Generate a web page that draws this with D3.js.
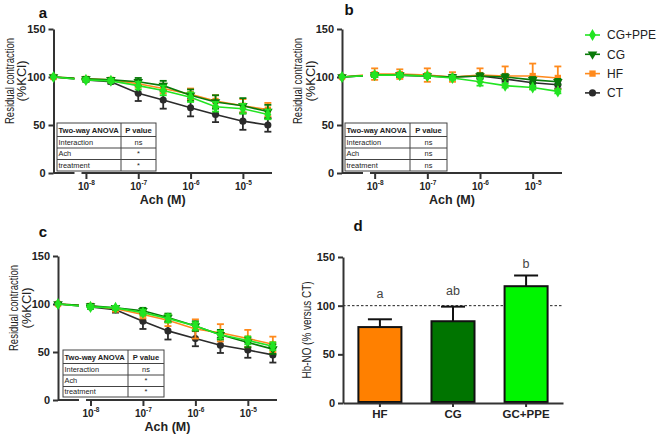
<!DOCTYPE html>
<html><head><meta charset="utf-8">
<script src="https://cdn.jsdelivr.net/npm/d3@7"></script>
<style>
body{margin:0;background:#fff}
svg{display:block}
text{font-family:"Liberation Sans",Arial,Helvetica,sans-serif}
</style>
</head><body>
<svg id="chart" width="658" height="436"></svg>
<script>
// ---------------- DATA ----------------
const doses = [0, 1e-8, 3e-8, 1e-7, 3e-7, 1e-6, 3e-6, 1e-5, 3e-5];
const seriesNames = ["CG+PPE", "CG", "HF", "CT"];
const xTickValues = [1e-8, 1e-7, 1e-6, 1e-5];
const xTickExps = ["-8", "-7", "-6", "-5"];
const yTickValues = [0, 50, 100, 150];

// panel a
const aCT   = [100, 97, 95, 83, 76, 68, 61, 54, 50];
const aHF   = [100, 98, 97, 93, 88, 82, 75, 70, 66];
const aCG   = [100, 98, 97, 95, 91, 81, 74, 70, 64];
const aPPE  = [100, 97, 96, 91, 86, 79, 69, 67, 61];
const aCTe  = [0, 2, 2, 8, 9, 9, 8, 9, 7];
const aHFe  = [0, 2, 2, 4, 5, 6, 6, 7, 7];
const aCGe  = [0, 2, 2, 4, 5, 6, 7, 8, 7];
const aPPEe = [0, 2, 2, 4, 5, 5, 5, 5, 5];
const aPvals = ["ns", "*", "*"];

// panel b
const bCT   = [100, 102, 102, 101, 100, 101, 98, 94, 92];
const bHF   = [100, 103, 103, 102, 100, 102, 101, 101, 99];
const bCG   = [100, 102, 102, 101, 100, 101, 100, 97, 95];
const bPPE  = [100, 102, 102, 101, 99, 95, 91, 89, 85];
const bCTe  = [0, 2, 2, 2, 2, 2, 3, 4, 4];
const bHFe  = [0, 6, 5, 7, 5, 7, 10, 13, 12];
const bCGe  = [0, 2, 2, 2, 2, 3, 3, 3, 3];
const bPPEe = [0, 2, 2, 2, 2, 4, 2, 2, 2];
const bPvals = ["ns", "ns", "ns"];

// panel c
const cCT   = [100, 97, 94, 82, 72, 64, 57, 52, 47];
const cHF   = [100, 98, 95, 89, 83, 74, 70, 64, 58];
const cCG   = [100, 98, 96, 93, 86, 77, 68, 60, 53];
const cPPE  = [100, 97, 96, 91, 85, 77, 68, 62, 56];
const cCTe  = [0, 2, 3, 8, 9, 8, 8, 8, 8];
const cHFe  = [0, 2, 3, 4, 6, 10, 9, 9, 8];
const cCGe  = [0, 2, 2, 3, 4, 5, 5, 5, 5];
const cPPEe = [0, 2, 2, 3, 4, 4, 4, 4, 4];
const cPvals = ["ns", "*", "*"];

const anovaHeader = ["Two-way ANOVA", "P value"];
const anovaRows = ["Interaction", "Ach", "treatment"];

// panel d
const hbCats = ["HF", "CG", "GC+PPE"];
const hbVals = [78, 84, 120];
const hbErr  = [8, 15, 11];
const hbLetters = ["a", "ab", "b"];
const hbLetterLevels = [108, 111, 139];
const hbRef = 100;

// ---------------- STYLE ----------------
const colors = {"CG+PPE": "#22e422", "CG": "#087a08", "HF": "#ff8a1c", "CT": "#2b2b2b"};
const barColors = ["#ff8000", "#007400", "#00f500"];
const axisColor = "#333";
const textColor = "#222";
const FONT = '"Liberation Sans",Arial,sans-serif';

const svg = d3.select("#chart");

function marker(name) {
  if (name === "CG+PPE") return d3.symbol().type(d3.symbolDiamond).size(42)();
  if (name === "CG") return d3.symbol().type(d3.symbolTriangle).size(40)();
  if (name === "HF") return d3.symbol().type(d3.symbolSquare).size(40)();
  return d3.symbol().type(d3.symbolCircle).size(40)();
}
function markerRot(name) { return name === "CG" ? " rotate(180)" : ""; }

function drawPanel(cfg) {
  const g = svg.append("g");
  const x = d3.scaleLog().domain([2.4e-9, 3.6e-5]).range([cfg.x0, cfg.x1]);
  const px = d => d === 0 ? cfg.x0 : x(d);
  const y = d3.scaleLinear().domain([0, 150]).range([cfg.yb, cfg.yt]);

  // y axis
  const ya = g.append("g").attr("transform", `translate(${cfg.x0},0)`)
    .call(d3.axisLeft(y).tickValues(yTickValues).tickSize(5).tickSizeOuter(0).tickPadding(3));
  ya.select(".domain").attr("stroke", axisColor).attr("stroke-width", 2);
  ya.selectAll(".tick line").attr("stroke", axisColor).attr("stroke-width", 2);
  ya.selectAll(".tick text").attr("fill", textColor).attr("font-size", 11)
    .attr("font-weight", "bold").attr("font-family", FONT);

  // x axis (with break)
  const xa = g.append("g").attr("transform", `translate(0,${cfg.yb})`)
    .call(d3.axisBottom(x).tickValues(xTickValues).tickSize(6).tickFormat(() => ""));
  xa.select(".domain").remove();
  xa.selectAll(".tick line").attr("stroke", axisColor).attr("stroke-width", 2);
  xa.selectAll(".tick text").remove();
  xa.selectAll(".tick").each(function(d, i) {
    const t = d3.select(this).append("text").attr("y", 17).attr("text-anchor", "middle")
      .attr("fill", textColor).attr("font-family", FONT).attr("font-weight", "bold");
    t.append("tspan").attr("font-size", 10).text("10");
    t.append("tspan").attr("font-size", 6.5).attr("dy", -5).text(xTickExps[i]);
  });
  const brk0 = cfg.x0 + 21, brk1 = cfg.x0 + 28;
  xa.append("line").attr("x1", cfg.x0).attr("x2", brk0).attr("stroke", axisColor).attr("stroke-width", 2);
  xa.append("line").attr("x1", brk1).attr("x2", cfg.x1).attr("stroke", axisColor).attr("stroke-width", 2);

  // ANOVA table
  const tb = cfg.table;
  const tg = g.append("g");
  const rowY = [tb.y0, tb.y0 + 13.5, tb.y0 + 25, tb.y0 + 36.5, tb.y1];
  tg.append("rect").attr("x", tb.x0).attr("y", tb.y0).attr("width", tb.x1 - tb.x0)
    .attr("height", tb.y1 - tb.y0).attr("fill", "#fff").attr("stroke", "#444").attr("stroke-width", 1);
  rowY.slice(1, 4).forEach(yy => tg.append("line").attr("x1", tb.x0).attr("x2", tb.x1)
    .attr("y1", yy).attr("y2", yy).attr("stroke", "#444").attr("stroke-width", 1));
  tg.append("line").attr("x1", tb.xd).attr("x2", tb.xd).attr("y1", tb.y0).attr("y2", tb.y1)
    .attr("stroke", "#444").attr("stroke-width", 1);
  tg.append("text").attr("x", tb.x0 + 1.5).attr("y", rowY[0] + 10).attr("font-size", 7.6)
    .attr("font-weight", "bold").attr("fill", textColor).text(anovaHeader[0]);
  tg.append("text").attr("x", (tb.xd + tb.x1) / 2).attr("y", rowY[0] + 10).attr("font-size", 7.6)
    .attr("text-anchor", "middle").attr("font-weight", "bold").attr("fill", textColor).text(anovaHeader[1]);
  anovaRows.forEach((r, i) => {
    const yy = (rowY[i + 1] + rowY[i + 2]) / 2 + 2.7;
    tg.append("text").attr("x", tb.x0 + 1.5).attr("y", yy).attr("font-size", 7.4)
      .attr("fill", textColor).text(r);
    tg.append("text").attr("x", (tb.xd + tb.x1) / 2).attr("y", yy).attr("font-size", 7.4)
      .attr("text-anchor", "middle").attr("fill", textColor).text(cfg.pvals[i]);
  });

  // clip for line break
  const cid = "clip" + cfg.id;
  const cp = svg.append("clipPath").attr("id", cid);
  cp.append("rect").attr("x", 0).attr("y", 0).attr("width", brk0).attr("height", 436);
  cp.append("rect").attr("x", brk1).attr("y", 0).attr("width", 658 - brk1).attr("height", 436);

  const order = ["CT", "HF", "CG", "CG+PPE"];
  order.forEach(name => {
    const vals = cfg.series[name], errs = cfg.errs[name];
    const pts = doses.map((d, i) => ({x: px(d), v: vals[i], e: errs[i]}));
    const sg = g.append("g");
    sg.append("path").datum(pts)
      .attr("d", d3.line().x(p => p.x).y(p => y(p.v)))
      .attr("fill", "none").attr("stroke", colors[name]).attr("stroke-width", 1.6)
      .attr("clip-path", `url(#${cid})`);
    pts.forEach(p => {
      if (p.e > 0) {
        sg.append("line").attr("x1", p.x).attr("x2", p.x).attr("y1", y(p.v - p.e)).attr("y2", y(p.v + p.e))
          .attr("stroke", colors[name]).attr("stroke-width", 1.8);
        [p.v - p.e, p.v + p.e].forEach(v => sg.append("line").attr("x1", p.x - 3.5).attr("x2", p.x + 3.5)
          .attr("y1", y(v)).attr("y2", y(v)).attr("stroke", colors[name]).attr("stroke-width", 1.8));
      }
      sg.append("path").attr("d", marker(name))
        .attr("transform", `translate(${p.x},${y(p.v)})${markerRot(name)}`)
        .attr("fill", colors[name]);
    });
  });

  // titles
  const tcy = cfg.yt + 52;
  g.append("text").attr("transform", `translate(${cfg.x0 - 40},${tcy}) rotate(-90)`)
    .attr("text-anchor", "middle").attr("font-size", 13.5).attr("fill", textColor)
    .attr("textLength", 86).attr("lengthAdjust", "spacingAndGlyphs").text("Residual contraction");
  g.append("text").attr("transform", `translate(${cfg.x0 - 27.5},${tcy}) rotate(-90)`)
    .attr("text-anchor", "middle").attr("font-size", 13.5).attr("fill", textColor)
    .attr("textLength", 41).attr("lengthAdjust", "spacingAndGlyphs").text("(%KCl)");
  g.append("text").attr("x", (cfg.x0 + cfg.x1) / 2).attr("y", cfg.yb + 31)
    .attr("text-anchor", "middle").attr("font-size", 12.5).attr("font-weight", "bold")
    .attr("fill", textColor).text("Ach (M)");
  g.append("text").attr("x", cfg.lx).attr("y", cfg.ly).attr("text-anchor", "middle")
    .attr("font-size", 15).attr("font-weight", "bold").attr("fill", "#111").text(cfg.id);
}

drawPanel({id: "a", x0: 53.5, x1: 272, yb: 173, yt: 29, lx: 43, ly: 18,
  table: {x0: 57, x1: 156, xd: 121, y0: 123, y1: 171}, pvals: aPvals,
  series: {"CT": aCT, "HF": aHF, "CG": aCG, "CG+PPE": aPPE},
  errs: {"CT": aCTe, "HF": aHFe, "CG": aCGe, "CG+PPE": aPPEe}});
drawPanel({id: "b", x0: 342, x1: 562, yb: 173, yt: 29, lx: 349, ly: 15,
  table: {x0: 345, x1: 447, xd: 410, y0: 123, y1: 171}, pvals: bPvals,
  series: {"CT": bCT, "HF": bHF, "CG": bCG, "CG+PPE": bPPE},
  errs: {"CT": bCTe, "HF": bHFe, "CG": bCGe, "CG+PPE": bPPEe}});
drawPanel({id: "c", x0: 58, x1: 277, yb: 400, yt: 256, lx: 43, ly: 237,
  table: {x0: 63, x1: 164, xd: 128, y0: 350, y1: 397}, pvals: cPvals,
  series: {"CT": cCT, "HF": cHF, "CG": cCG, "CG+PPE": cPPE},
  errs: {"CT": cCTe, "HF": cHFe, "CG": cCGe, "CG+PPE": cPPEe}});

// legend
const lg = svg.append("g");
seriesNames.forEach((name, i) => {
  const yy = 35 + i * 19.3;
  lg.append("line").attr("x1", 585).attr("x2", 600).attr("y1", yy).attr("y2", yy)
    .attr("stroke", colors[name]).attr("stroke-width", 1.6);
  lg.append("path").attr("d", marker(name)).attr("transform", `translate(592.5,${yy})${markerRot(name)}`)
    .attr("fill", colors[name]);
  lg.append("text").attr("x", 607).attr("y", yy + 4.4).attr("font-size", 12).attr("fill", textColor).text(name);
});

// ---------------- panel d ----------------
(function() {
  const g = svg.append("g");
  const x0 = 343, x1 = 563, yb = 403, yt = 257;
  const x = d3.scaleBand().domain(hbCats).range([x0, x1]).paddingInner(0.384).paddingOuter(0.197);
  const y = d3.scaleLinear().domain([0, 150]).range([yb, yt]);

  g.append("line").attr("x1", x0).attr("x2", x1).attr("y1", y(hbRef)).attr("y2", y(hbRef))
    .attr("stroke", "#222").attr("stroke-width", 1).attr("stroke-dasharray", "2.5,2");

  hbCats.forEach((c, i) => {
    const cx = x(c) + x.bandwidth() / 2;
    g.append("line").attr("x1", cx).attr("x2", cx).attr("y1", y(hbVals[i])).attr("y2", y(hbVals[i] + hbErr[i]))
      .attr("stroke", "#111").attr("stroke-width", 2);
    g.append("line").attr("x1", cx - 12).attr("x2", cx + 12).attr("y1", y(hbVals[i] + hbErr[i]))
      .attr("y2", y(hbVals[i] + hbErr[i])).attr("stroke", "#111").attr("stroke-width", 2);
    g.append("rect").attr("x", x(c) + 1).attr("y", y(hbVals[i])).attr("width", x.bandwidth() - 2)
      .attr("height", yb - y(hbVals[i]) - 1).attr("fill", barColors[i]).attr("stroke", "#111").attr("stroke-width", 2);
    g.append("text").attr("x", cx).attr("y", y(hbLetterLevels[i])).attr("text-anchor", "middle")
      .attr("font-size", 12.5).attr("fill", "#444").text(hbLetters[i]);
  });

  const ya = g.append("g").attr("transform", `translate(${x0},0)`)
    .call(d3.axisLeft(y).tickValues(yTickValues).tickSize(5).tickSizeOuter(0).tickPadding(3));
  ya.select(".domain").attr("stroke", axisColor).attr("stroke-width", 2);
  ya.selectAll(".tick line").attr("stroke", axisColor).attr("stroke-width", 2);
  ya.selectAll(".tick text").attr("fill", textColor).attr("font-size", 11)
    .attr("font-weight", "bold").attr("font-family", FONT);

  const xa = g.append("g").attr("transform", `translate(0,${yb})`)
    .call(d3.axisBottom(x).tickSize(4).tickSizeOuter(0).tickPadding(3));
  xa.select(".domain").attr("stroke", axisColor).attr("stroke-width", 2);
  xa.selectAll(".tick line").attr("stroke", axisColor).attr("stroke-width", 2);
  xa.selectAll(".tick text").attr("fill", textColor).attr("font-size", 11.5)
    .attr("font-weight", "bold").attr("font-family", FONT);

  g.append("text").attr("transform", `translate(${x0 - 32},${(yb + yt) / 2}) rotate(-90)`)
    .attr("text-anchor", "middle").attr("font-size", 13.5).attr("fill", textColor)
    .attr("textLength", 97).attr("lengthAdjust", "spacingAndGlyphs").text("Hb-NO (% versus CT)");
  g.append("text").attr("x", 358).attr("y", 231).attr("text-anchor", "middle")
    .attr("font-size", 15).attr("font-weight", "bold").attr("fill", "#111").text("d");
})();
</script>
</body></html>
